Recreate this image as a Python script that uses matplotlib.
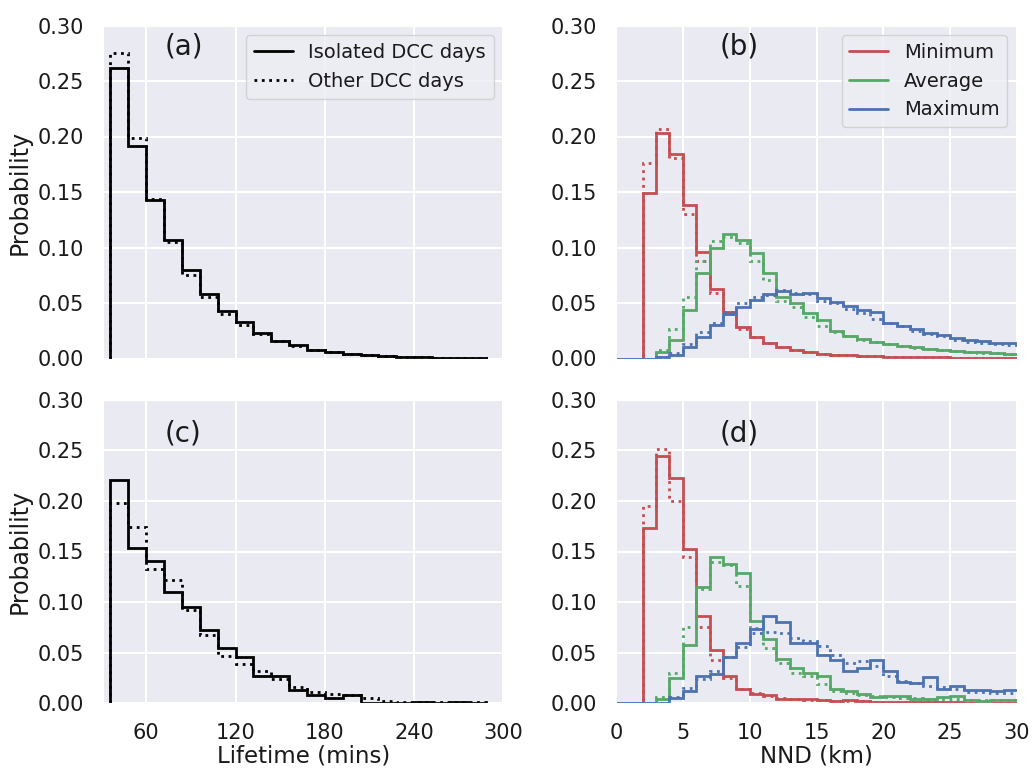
import numpy as np
import matplotlib
matplotlib.use("Agg")
import matplotlib.pyplot as plt
import seaborn as sns

# lifetime bins (mins) and probabilities
life_edges = np.arange(36, 289, 12)

life_iso_a = [0.262, 0.191, 0.143, 0.107, 0.080, 0.058, 0.043, 0.033, 0.023, 0.016, 0.012,
              0.008, 0.006, 0.004, 0.003, 0.002, 0.0015, 0.001, 0.0008, 0.0005, 0.0003]
life_oth_a = [0.275, 0.199, 0.144, 0.105, 0.075, 0.055, 0.040, 0.030, 0.022, 0.016, 0.011,
              0.008, 0.006, 0.004, 0.003, 0.002, 0.0015, 0.001, 0.0007, 0.0005, 0.0003]
life_iso_c = [0.221, 0.153, 0.141, 0.110, 0.095, 0.072, 0.055, 0.046, 0.027, 0.027, 0.013,
              0.008, 0.0055, 0.008, 0.0007, 0.0005, 0.0005, 0.0015, 0.0005, 0.0015, 0.0005]
life_oth_c = [0.198, 0.174, 0.133, 0.122, 0.092, 0.067, 0.047, 0.039, 0.032, 0.024, 0.016,
              0.011, 0.009, 0.008, 0.005, 0.002, 0.0015, 0.001, 0.001, 0.0008, 0.0008]

# NND bins (km), 0..30
nnd_edges = np.arange(0, 31, 1)

min_iso_b = [0, 0, 0.149, 0.203, 0.184, 0.138, 0.0955, 0.063, 0.042, 0.028, 0.0196, 0.0143,
             0.0107, 0.0077, 0.0058, 0.0045, 0.0036, 0.003, 0.0025, 0.002, 0.0017, 0.0015,
             0.0013, 0.0011, 0.001, 0.0009, 0.0008, 0.0007, 0.0006, 0.0005]
min_oth_b = [0, 0, 0.176, 0.207, 0.181, 0.130, 0.088, 0.059, 0.040, 0.027, 0.019, 0.014,
             0.010, 0.0075, 0.0057, 0.0045, 0.0035, 0.003, 0.0025, 0.002, 0.0017, 0.0015,
             0.0013, 0.0011, 0.001, 0.0009, 0.0008, 0.0007, 0.0006, 0.0005]
avg_iso_b = [0, 0, 0, 0.006, 0.017, 0.0435, 0.077, 0.100, 0.112, 0.107, 0.095, 0.077,
             0.055, 0.050, 0.041, 0.035, 0.025, 0.020, 0.018, 0.015, 0.013, 0.011,
             0.010, 0.009, 0.008, 0.007, 0.006, 0.0055, 0.005, 0.0045]
avg_oth_b = [0, 0, 0, 0.0077, 0.027, 0.055, 0.088, 0.106, 0.1095, 0.104, 0.0875, 0.071,
             0.052, 0.046, 0.037, 0.029, 0.024, 0.020, 0.017, 0.015, 0.013, 0.011,
             0.0095, 0.0085, 0.0075, 0.0068, 0.006, 0.0053, 0.0048, 0.0043]
max_iso_b = [0, 0, 0, 0.001, 0.003, 0.010, 0.019, 0.030, 0.040, 0.046, 0.053, 0.058,
             0.061, 0.058, 0.059, 0.0545, 0.051, 0.0476, 0.044, 0.0415, 0.032, 0.0294,
             0.0264, 0.0233, 0.0212, 0.0182, 0.0167, 0.016, 0.0142, 0.0138]
max_oth_b = [0, 0, 0, 0.001, 0.005, 0.013, 0.024, 0.032, 0.042, 0.050, 0.055, 0.057,
             0.062, 0.059, 0.058, 0.052, 0.050, 0.045, 0.041, 0.036, 0.032, 0.029,
             0.025, 0.022, 0.020, 0.017, 0.015, 0.014, 0.013, 0.012]

min_iso_d = [0, 0, 0.173, 0.244, 0.223, 0.152, 0.0865, 0.0526, 0.027, 0.0145, 0.009, 0.0085,
             0.0046, 0.004, 0.004, 0.003, 0.002, 0.003, 0.002, 0.0015, 0.0015, 0.001,
             0.001, 0.001, 0.0008, 0.0008, 0.0005, 0.0005, 0.0005, 0.0005]
min_oth_d = [0, 0, 0.195, 0.251, 0.200, 0.145, 0.075, 0.043, 0.025, 0.014, 0.010, 0.007,
             0.005, 0.004, 0.0035, 0.003, 0.0025, 0.002, 0.002, 0.0015, 0.0015, 0.001,
             0.001, 0.001, 0.0008, 0.0008, 0.0005, 0.0005, 0.0005, 0.0005]
avg_iso_d = [0, 0, 0, 0.004, 0.025, 0.058, 0.115, 0.145, 0.138, 0.129, 0.081, 0.064,
             0.0434, 0.035, 0.030, 0.027, 0.0145, 0.012, 0.009, 0.006, 0.007, 0.0075,
             0.004, 0.004, 0.006, 0.007, 0.003, 0.002, 0.0035, 0.0035]
avg_oth_d = [0, 0, 0, 0.0067, 0.030, 0.075, 0.113, 0.140, 0.137, 0.116, 0.074, 0.055,
             0.040, 0.030, 0.027, 0.019, 0.012, 0.010, 0.008, 0.007, 0.006, 0.005,
             0.005, 0.004, 0.004, 0.004, 0.003, 0.003, 0.003, 0.003]
max_iso_d = [0, 0, 0, 0, 0.005, 0.012, 0.027, 0.029, 0.046, 0.060, 0.073, 0.086,
             0.0806, 0.060, 0.060, 0.048, 0.0428, 0.032, 0.035, 0.043, 0.032, 0.021,
             0.020, 0.026, 0.0144, 0.017, 0.0131, 0.013, 0.012, 0.0128]
max_oth_d = [0, 0, 0, 0, 0.006, 0.015, 0.024, 0.032, 0.046, 0.0556, 0.0697, 0.070,
             0.069, 0.065, 0.0615, 0.0566, 0.048, 0.040, 0.042, 0.037, 0.027, 0.022,
             0.020, 0.017, 0.016, 0.014, 0.011, 0.011, 0.010, 0.010]

red, green, blue = '#C44E52', '#55A868', '#4C72B0'

sns.set_style("darkgrid")
plt.rcParams['font.family'] = ['DejaVu Sans']
plt.rcParams['text.color'] = '#1a1a1a'
plt.rcParams['axes.labelcolor'] = '#1a1a1a'
plt.rcParams['xtick.color'] = '#1a1a1a'
plt.rcParams['ytick.color'] = '#1a1a1a'

fig = plt.figure(figsize=(10.33, 7.68), dpi=100)
W, H = 1033, 768


def add_ax(l, r, t, b):
    return fig.add_axes([l / W, 1 - b / H, (r - l) / W, (b - t) / H])


ax_a = add_ax(103, 503.5, 25.5, 358.5)
ax_b = add_ax(616, 1017, 25.5, 358.5)
ax_c = add_ax(103, 503.5, 399.7, 703.3)
ax_d = add_ax(616, 1017, 399.7, 703.3)

lw = 2.0

# lifetime panels
for ax, iso, oth in [(ax_a, life_iso_a, life_oth_a), (ax_c, life_iso_c, life_oth_c)]:
    ax.stairs(iso, life_edges, baseline=0, color='k', lw=lw, label='Isolated DCC days')
    ax.stairs(oth, life_edges, baseline=0, color='k', lw=lw, ls=':', label='Other DCC days')
    ax.set_xlim(31, 300)
    ax.set_xticks([60, 120, 180, 240, 300])
    ax.set_ylabel('Probability', fontsize=17)

# NND panels
for ax, sets in [(ax_b, [(min_iso_b, min_oth_b), (avg_iso_b, avg_oth_b), (max_iso_b, max_oth_b)]),
                 (ax_d, [(min_iso_d, min_oth_d), (avg_iso_d, avg_oth_d), (max_iso_d, max_oth_d)])]:
    for (iso, oth), c, name in zip(sets, [red, green, blue], ['Minimum', 'Average', 'Maximum']):
        ax.stairs(iso, nnd_edges, baseline=None, color=c, lw=lw, label=name)
        ax.stairs(oth, nnd_edges, baseline=None, color=c, lw=lw, ls=':')
    ax.set_xlim(0, 30)
    ax.set_xticks([0, 5, 10, 15, 20, 25, 30])

for ax in [ax_a, ax_b, ax_c, ax_d]:
    ax.set_ylim(0, 0.30)
    ax.set_yticks([0, 0.05, 0.10, 0.15, 0.20, 0.25, 0.30])
    ax.yaxis.set_major_formatter(matplotlib.ticker.FormatStrFormatter('%.2f'))
    ax.tick_params(labelsize=15, length=0, pad=14)
    ax.grid(True, color='white', lw=1.5)

ax_a.tick_params(labelbottom=False)
ax_b.tick_params(labelbottom=False)
ax_c.set_xlabel('Lifetime (mins)', fontsize=16.5, labelpad=1)
ax_d.set_xlabel('NND (km)', fontsize=16.5, labelpad=1)

ax_a.text(85, 0.281, '(a)', fontsize=20, ha='center', va='center')
ax_b.text(9.2, 0.281, '(b)', fontsize=20, ha='center', va='center')
ax_c.text(85, 0.267, '(c)', fontsize=20, ha='center', va='center')
ax_d.text(9.2, 0.267, '(d)', fontsize=20, ha='center', va='center')

ax_a.legend(loc='upper right', fontsize=14, frameon=True, facecolor='#EDEDF4', edgecolor='#CCCCCC')
ax_b.legend(loc='upper right', fontsize=14, frameon=True, facecolor='#EDEDF4', edgecolor='#CCCCCC')

fig.savefig('out.png', dpi=100)
